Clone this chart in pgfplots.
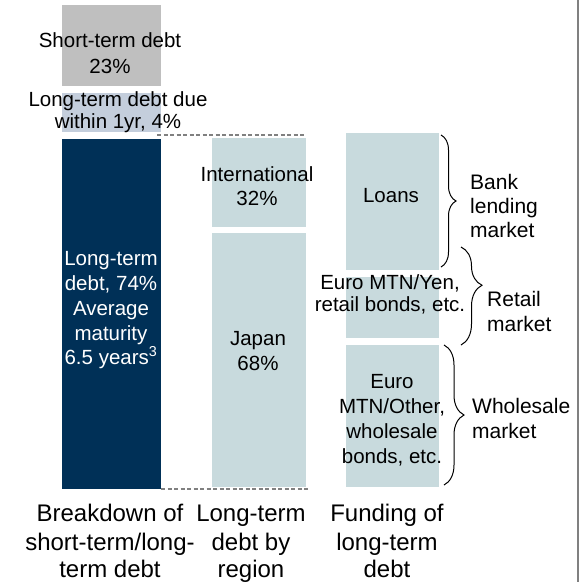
\documentclass[border=0pt]{standalone}
\usepackage{fontspec}
\setmainfont{Liberation Sans}
\usepackage{pgfplots}
\pgfplotsset{compat=1.18}
\usetikzlibrary{decorations.pathreplacing}
\definecolor{stgray}{HTML}{BFBFBF}
\definecolor{ltdue}{HTML}{C4CEDC}
\definecolor{navy}{HTML}{003057}
\definecolor{pale}{HTML}{C8DADD}
\definecolor{dashgray}{HTML}{808080}
\newcommand{\barlbl}[4][black]{\node[anchor=base, inner sep=0pt, text=#1, font=\fontsize{20.5}{24}\selectfont] at (axis cs:#2,#3) {#4};}
\newcommand{\sidelbl}[3]{\node[anchor=base west, inner sep=0pt, font=\fontsize{21}{24}\selectfont] at (axis cs:#1,#2) {#3};}
\newcommand{\botlbl}[3]{\node[anchor=base, inner sep=0pt, font=\fontsize{24}{28}\selectfont] at (axis cs:#1,#2) {#3};}
\begin{document}
\begin{tikzpicture}
\begin{axis}[
  scale only axis, width=582pt, height=582pt,
  xmin=0, xmax=582, ymin=0, ymax=582, y dir=reverse,
  hide axis, clip=false]
% bar 1
\addplot[fill=stgray, draw=none] coordinates {(62,5) (161,5) (161,86) (62,86)} -- cycle;
\addplot[fill=ltdue, draw=none] coordinates {(62,93) (161,93) (161,132) (62,132)} -- cycle;
\addplot[fill=navy, draw=none] coordinates {(62,139) (161,139) (161,489) (62,489)} -- cycle;
% bar 2
\addplot[fill=pale, draw=none] coordinates {(212,138) (306,138) (306,227) (212,227)} -- cycle;
\addplot[fill=pale, draw=none] coordinates {(212,233) (306,233) (306,487) (212,487)} -- cycle;
% bar 3
\addplot[fill=pale, draw=none] coordinates {(346,133) (439,133) (439,270) (346,270)} -- cycle;
\addplot[fill=pale, draw=none] coordinates {(346,277) (439,277) (439,338) (346,338)} -- cycle;
\addplot[fill=pale, draw=none] coordinates {(346,345) (439,345) (439,487) (346,487)} -- cycle;
% dashed connectors
\addplot[dashgray, line width=1.5pt, dash pattern=on 4pt off 2.5pt] coordinates {(157,135) (304,135)};
\addplot[dashgray, line width=1.5pt, dash pattern=on 4pt off 2.5pt] coordinates {(161,489) (308,489)};
% right frame line
\addplot[dashgray, line width=1.8pt] coordinates {(578,0) (578,582)};
% braces
\draw[line width=1pt, decorate, decoration={brace, amplitude=15pt}] (axis cs:441,135) -- (axis cs:441,267);
\draw[line width=1pt, decorate, decoration={brace, amplitude=21pt, aspect=0.39}] (axis cs:461,247) -- (axis cs:461,345);
\draw[line width=1pt, decorate, decoration={brace, amplitude=20pt}] (axis cs:444,345) -- (axis cs:444,485);
% bar texts
\barlbl{110}{47}{Short-term debt}
\barlbl{110}{73}{23\%}
\barlbl{118}{106}{Long-term debt due}
\barlbl{118}{128}{within 1yr, 4\%}
\barlbl[white]{111}{265}{Long-term}
\barlbl[white]{111}{290}{debt, 74\%}
\barlbl[white]{111}{315}{Average}
\barlbl[white]{111}{340}{maturity}
\barlbl[white]{111}{364}{6.5 years\textsuperscript{3}}
\barlbl{257}{181}{International}
\barlbl{257}{205}{32\%}
\barlbl{258}{345}{Japan}
\barlbl{258}{370}{68\%}
\barlbl{391}{202}{Loans}
\barlbl{390}{289}{Euro MTN/Yen,}
\barlbl{390}{311}{retail bonds, etc.}
\barlbl{392}{388}{Euro}
\barlbl{392}{413}{MTN/Other,}
\barlbl{392}{438}{wholesale}
\barlbl{392}{463}{bonds, etc.}
% side labels
\sidelbl{470}{189}{Bank}
\sidelbl{470}{213}{lending}
\sidelbl{470}{237}{market}
\sidelbl{487}{306}{Retail}
\sidelbl{487}{331}{market}
\sidelbl{472}{413}{Wholesale}
\sidelbl{472}{438}{market}
% bottom labels
\botlbl{110}{521}{Breakdown of}
\botlbl{110}{550}{short-term/long-}
\botlbl{110}{577}{term debt}
\botlbl{251}{521}{Long-term}
\botlbl{251}{550}{debt by}
\botlbl{251}{577}{region}
\botlbl{387}{521}{Funding of}
\botlbl{387}{550}{long-term}
\botlbl{387}{577}{debt}
\end{axis}
\pgfresetboundingbox
\path (0,0) rectangle (582pt,582pt);
\end{tikzpicture}
\end{document}
